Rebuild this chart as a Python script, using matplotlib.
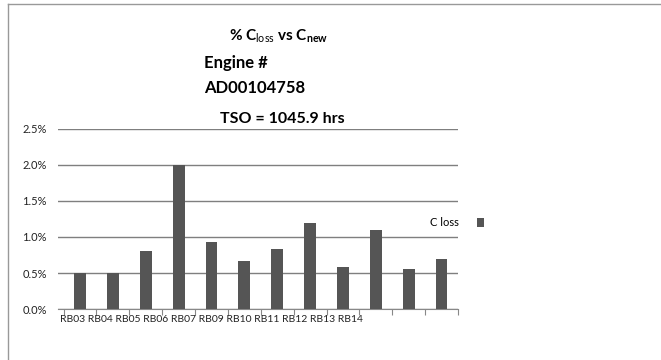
import matplotlib.pyplot as plt
from matplotlib.lines import Line2D

# data
tick_names = ['RB03', 'RB04', 'RB05', 'RB06', 'RB07', 'RB09', 'RB10',
              'RB11', 'RB12', 'RB13', 'RB14']
c_loss = [0.50, 0.50, 0.81, 2.00, 0.93, 0.66, 0.84, 1.19, 0.58, 1.10, 0.55, 0.69]
y_ticks = [0.0, 0.5, 1.0, 1.5, 2.0, 2.5]

plt.rcParams['font.family'] = ['Lato', 'DejaVu Sans']
plt.rcParams['mathtext.fontset'] = 'custom'
plt.rcParams['mathtext.rm'] = 'Lato'
plt.rcParams['mathtext.bf'] = 'Lato:bold'

fig = plt.figure(figsize=(6.61, 3.6), dpi=100)
ax = fig.add_axes([58/661, 1-309/360, 400/661, 180/360])

x_pos = range(len(c_loss))
ax.bar(x_pos, c_loss, width=0.36, color='#555555', label='C loss', zorder=3)

ax.set_ylim(0, 2.5)
ax.set_xlim(-0.67, 11.49)
ax.set_yticks(y_ticks)
ax.set_yticklabels(['%.1f%%' % v for v in y_ticks], fontsize=8, color='#222222')
ax.tick_params(axis='y', length=0, pad=8)
ax.set_xticks([i - 0.5 for i in range(len(c_loss) + 1)])
ax.set_xticklabels([])
ax.tick_params(axis='x', length=4, color='#888888', direction='out')
ax.grid(axis='y', color='#7f7f7f', linewidth=1.0, zorder=1)
for s in ['top', 'right', 'left']:
    ax.spines[s].set_visible(False)
ax.spines['bottom'].set_color('#888888')

# category names run together under the axis
ax.text(0.005, -0.035, ' '.join(tick_names), transform=ax.transAxes,
        ha='left', va='top', fontsize=7.5, color='#222222')

ax.legend(loc='center left', bbox_to_anchor=(0.905, 0.48), markerfirst=False,
          frameon=False, handlelength=0.7, handleheight=0.9, handletextpad=1.6,
          fontsize=8)

# titles
fig.text(0.421, 0.90, r'% C$_{\mathrm{loss}}$ vs C$_{\mathbf{new}}$', ha='center', va='center',
         fontsize=11, fontweight='bold')
fig.text(204/661, 1-63/360, 'Engine #', ha='left', va='center', fontsize=12, fontweight='bold')
fig.text(204/661, 1-88/360, 'AD00104758', ha='left', va='center', fontsize=12, fontweight='bold')
fig.text(220/661, 1-119/360, 'TSO = 1045.9 hrs', ha='left', va='center', fontsize=11.5,
         fontweight='bold')

# outer frame
fig.add_artist(Line2D([8/661, 8/661], [0, 1-4/360], transform=fig.transFigure,
                      color='#999999', linewidth=1))
fig.add_artist(Line2D([8/661, 1], [1-4/360, 1-4/360], transform=fig.transFigure,
                      color='#999999', linewidth=1))

plt.savefig('out.png', dpi=100)
